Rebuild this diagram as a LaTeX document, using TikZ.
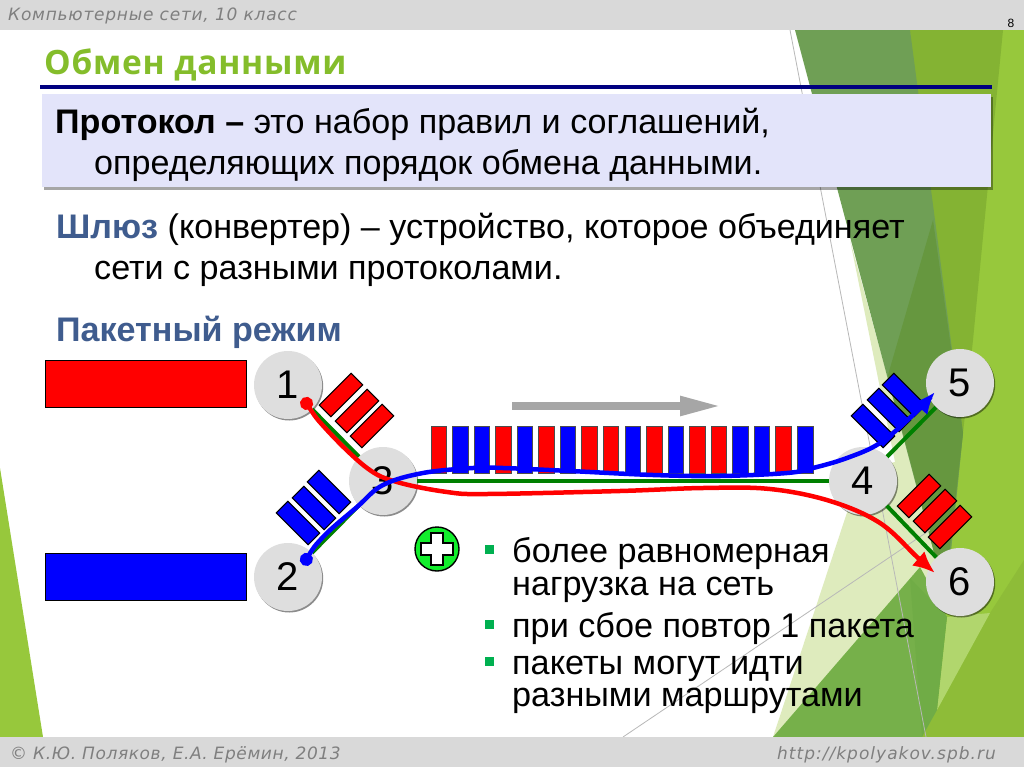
\documentclass[tikz,border=0pt]{standalone}
\usepackage{fontspec}
\usetikzlibrary{arrows.meta}
\setmainfont{Liberation Sans}
\newfontfamily\headfont[LetterSpace=4.5]{DejaVu Sans}
\newfontfamily\footfont[LetterSpace=3.5]{DejaVu Sans}
\newfontfamily\urlfont[LetterSpace=6]{DejaVu Sans}
\newfontfamily\titlefont[LetterSpace=2.2]{Open Sans}
\definecolor{barg}{HTML}{D9D9D9}
\definecolor{navyl}{HTML}{000080}
\definecolor{boxf}{HTML}{E3E4FA}
\definecolor{titleg}{HTML}{84BD2B}
\definecolor{slate}{HTML}{3F5C8E}
\definecolor{hubg}{HTML}{DEDEDE}
\definecolor{linkg}{HTML}{008000}
\definecolor{headg}{HTML}{7F7F7F}
\definecolor{limeg}{HTML}{97C83C}
\definecolor{bandg}{HTML}{84B333}
\definecolor{darka}{HTML}{6F9F55}
\definecolor{darkb}{HTML}{66973F}
\definecolor{midg}{HTML}{76B04A}
\definecolor{midh}{HTML}{70AC46}
\definecolor{paleg}{HTML}{DEEBBD}
\definecolor{bulg}{HTML}{00B050}
\definecolor{plusg}{HTML}{12EE2C}
\tikzset{
  x=1pt,y=-1pt,
  body/.style={anchor=base west,inner sep=0,font=\fontsize{34.1}{38}\selectfont},
  list/.style={anchor=base west,inner sep=0,font=\fontsize{34.2}{36}\selectfont},
  head/.style={anchor=base west,inner sep=0,text=headg,font=\itshape\fontsize{17}{20}\selectfont},
  hub/.style={circle,fill=hubg,minimum size=68pt,inner sep=0,font=\fontsize{40}{42}\selectfont,
    preaction={fill=black,opacity=.45,transform canvas={xshift=1.2pt,yshift=-1.5pt}}},
  link/.style={linkg,line width=4pt},
  pkt/.style={draw=black,line width=1pt,minimum width=45pt,minimum height=16.5pt,inner sep=0},
  rpkt/.style={pkt,fill=red},
  bpkt/.style={pkt,fill=blue},
  bar/.style={draw=black!70,line width=.8pt,minimum width=15.5pt,minimum height=47pt,inner sep=0,anchor=north west},
  rbar/.style={bar,fill=red},
  bbar/.style={bar,fill=blue},
  bul/.style={fill=bulg,minimum size=9pt,inner sep=0},
  route/.style={line width=4.5pt,{Circle[length=13pt]}-{Latex[length=22pt,width=19pt]}},
  thin/.style={black!28,line width=.8pt},
}
\begin{document}
\begin{tikzpicture}
\useasboundingbox (0,0) rectangle (1024,767);
\fill[white] (0,0) rectangle (1024,767);
% background facets
\fill[limeg] (0,468) -- (43,737) -- (0,737) -- cycle;
\fill[limeg] (905,30) -- (1024,30) -- (1024,737) -- (915,737) -- (940,560) -- cycle;
\fill[black!6!limeg] (1024,560) -- (1024,737) -- (922,737) -- (990,613) -- cycle;
\fill[limeg!75!white] (947,617) -- (990,613) -- (937,710) -- cycle;
\fill[bandg] (910,30) -- (1003,30) -- (973,340) -- (963,433) -- (950,560) -- cycle;
\fill[paleg] (850,240) -- (938,562) -- (920,600) -- (773,737) -- (861,470) -- (895,462) -- cycle;
\fill[darka] (795,30) -- (910,30) -- (963,433) -- (950,560) -- (936,560) -- cycle;
\fill[darkb] (933,220) -- (963,433) -- (948,565) -- (936,560) -- (888,375) -- cycle;
\fill[midg] (773,737) -- (920,567) -- (947,617) -- (922,737) -- cycle;
\fill[midh] (910,578) -- (947,617) -- (937,710) -- (922,737) -- cycle;
\draw[thin] (790,30) -- (926,737);
\draw[thin] (623,737) -- (930,530);
% bars
\fill[barg] (0,0) rectangle (1024,30);
\fill[barg] (0,737) rectangle (1024,767);
\node[head] (hdr) at (8,21) {\headfont Компьютерные сети, 10 класс};
\node[head] (ftl) at (10,759) {\footfont © К.Ю. Поляков, Е.А. Ерёмин, 2013};
\node[head,anchor=base east] (ftr) at (996,759) {\urlfont http://kpolyakov.spb.ru};
\node[anchor=base,inner sep=0,font=\fontsize{12}{12}\selectfont] (pg) at (1011,28) {8};
% title
\node[anchor=base west,inner sep=0,text=titleg,font=\titlefont\bfseries\fontsize{33.5}{40}\selectfont] (ttl) at (44,75) {Обмен данными};
\fill[navyl] (40,85) rectangle (992,89);
% definition box
\fill[black,opacity=.35] (44,97) rectangle (993,190);
\fill[boxf] (42,94) rectangle (991,187.5);
\node[body] (d1) at (55,134) {\textbf{Протокол –} это набор правил и соглашений,};
\node[body] (d2) at (94,175) {определяющих порядок обмена данными.};
\node[body] (s1) at (56,239) {\textcolor{slate}{\textbf{Шлюз}} (конвертер) – устройство, которое объединяет};
\node[body] (s2) at (94,279) {сети с разными протоколами.};
\node[body,text=slate] (pm) at (56,341) {\textbf{Пакетный режим}};
% source blocks
\node[draw=black,line width=1pt,fill=red,minimum width=201pt,minimum height=47pt,inner sep=0] (srcr) at (145.5,383.5) {};
\node[draw=black,line width=1pt,fill=blue,minimum width=201pt,minimum height=47pt,inner sep=0] (srcb) at (145.5,576.5) {};
% hubs
\node[hub] (n1) at (288,385) {1};
\node[hub] (n2) at (288,577) {2};
\node[hub] (n3) at (383,481) {3};
\node[hub] (n4) at (863,481) {4};
\node[hub] (n5) at (960,383) {5};
\node[hub] (n6) at (960,582) {6};
\draw[link] (n1) -- (n3);
\draw[link] (n2) -- (n3);
\draw[link] (n3) -- (n4);
\draw[link] (n4) -- (n5);
\draw[link] (n4) -- (n6);
% packets
\node[rpkt,rotate=45] (ra1) at (341,395) {};
\node[rpkt,rotate=45] (ra2) at (357,411) {};
\node[rpkt,rotate=45] (ra3) at (372,426) {};
\node[bpkt,rotate=-45] (ba1) at (298,523) {};
\node[bpkt,rotate=-45] (ba2) at (314,508) {};
\node[bpkt,rotate=-45] (ba3) at (329,492) {};
\node[bpkt,rotate=-45] (bb1) at (873,426) {};
\node[bpkt,rotate=-45] (bb2) at (889,410) {};
\node[bpkt,rotate=-45] (bb3) at (904,395) {};
\node[rpkt,rotate=45] (rb1) at (919,496) {};
\node[rpkt,rotate=45] (rb2) at (935,511) {};
\node[rpkt,rotate=45] (rb3) at (950,527) {};
% stream
\foreach \i/\s in {0/r,1/b,2/b,3/r,4/b,5/r,6/b,7/r,8/r,9/b,10/r,11/b,12/r,13/r,14/b,15/b,16/r,17/b}
  \node[\s bar] (st\i) at ({430.5+21.56*\i},426) {};
% direction arrow
\coordinate (da) at (512,406);
\coordinate (db) at (722,406);
\draw[black!35,line width=8pt,-{Triangle[length=42pt,width=18pt]}] (da) -- (db);
% routes
\draw[red,route] plot[smooth,tension=.6] coordinates {(303,398) (327,430) (367,468) (397,482) (447,492) (487,494) (620,491) (703,488) (770,489) (830,501) (880,523) (917,557) (935,573)};
\draw[blue,route] plot[smooth,tension=.6] coordinates {(303,565) (323,537) (357,507) (383,485) (423,473) (473,468) (503,468) (570,471) (653,475) (720,476) (787,473) (813,468) (847,458) (880,443) (913,415) (935,392)};
% plus
\node[circle,draw=black,line width=1.4pt,fill=plusg,minimum size=44pt,inner sep=0] (pl) at (437,549) {};
\draw[black,line width=1.2pt,fill=white] (431,533) -- (443,533) -- (443,543) -- (453,543) -- (453,555) -- (443,555) -- (443,565) -- (431,565) -- (431,555) -- (421,555) -- (421,543) -- (431,543) -- cycle;
% bullets
\node[bul] (b1) at (489,549) {};
\node[bul] (b2) at (489,624) {};
\node[bul] (b3) at (489,661) {};
\node[list] (l1) at (512,562) {более равномерная};
\node[list] (l2) at (512,595) {нагрузка на сеть};
\node[list] (l3) at (512,637) {при сбое повтор 1 пакета};
\node[list] (l4) at (512,674) {пакеты могут идти};
\node[list] (l5) at (512,706) {разными маршрутами};
\end{tikzpicture}
\end{document}
